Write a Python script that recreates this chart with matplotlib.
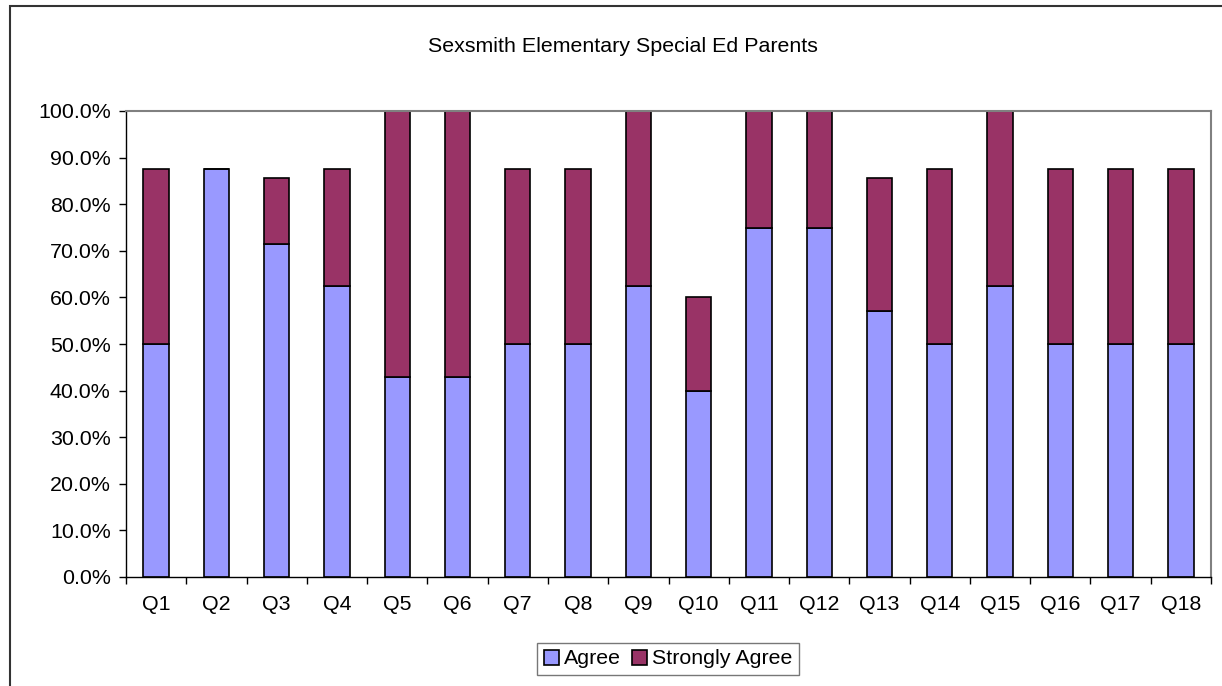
import matplotlib
matplotlib.use("Agg")
import matplotlib.pyplot as plt
from matplotlib.patches import Rectangle
from matplotlib.ticker import FixedLocator, FuncFormatter
import numpy as np

plt.rcParams["font.family"] = ["Liberation Sans", "DejaVu Sans"]

# Survey results (percent of respondents)
questions = [f"Q{i}" for i in range(1, 19)]
agree = [50.0, 87.5, 71.4, 62.5, 42.9, 42.9, 50.0, 50.0, 62.5,
         40.0, 75.0, 75.0, 57.1, 50.0, 62.5, 50.0, 50.0, 50.0]
strongly_agree = [37.5, 0.0, 14.3, 25.0, 57.1, 57.1, 37.5, 37.5, 37.5,
                  20.0, 25.0, 25.0, 28.6, 37.5, 37.5, 37.5, 37.5, 37.5]

AGREE_COLOR = "#9999FF"
STRONG_COLOR = "#993366"
FS = 15.4

fig = plt.figure(figsize=(12.22, 6.86), dpi=100)
W, H = 1222, 686
ax = fig.add_axes([126 / W, (H - 577) / H, (1211 - 126) / W, (577 - 111) / H])

x = np.arange(len(questions))
ax.bar(x, agree, width=0.42, color=AGREE_COLOR, edgecolor="black",
       linewidth=1.2, label="Agree")
ax.bar(x, strongly_agree, width=0.42, bottom=agree, color=STRONG_COLOR,
       edgecolor="black", linewidth=1.2, label="Strongly Agree")

ax.set_xlim(-0.5, len(questions) - 0.5)
ax.set_ylim(0, 100)
ax.set_yticks(np.arange(0, 101, 10))
ax.yaxis.set_major_formatter(FuncFormatter(lambda v, _: f"{v:.1f}%"))
ax.set_xticks(x)
ax.set_xticklabels(questions)
ax.xaxis.set_minor_locator(FixedLocator(np.arange(-0.5, len(questions), 1)))
ax.tick_params(axis="x", which="major", length=0, pad=13, labelsize=FS)
ax.tick_params(axis="x", which="minor", length=5, width=1, direction="out")
ax.tick_params(axis="y", length=5, width=1, direction="out", pad=6,
               labelsize=FS)

for side in ("top", "right"):
    ax.spines[side].set_color("#808080")
    ax.spines[side].set_linewidth(1.5)
for side in ("left", "bottom"):
    ax.spines[side].set_color("black")
    ax.spines[side].set_linewidth(1.0)

fig.text(623 / W, 1 - 47 / H, "Sexsmith Elementary Special Ed Parents",
         ha="center", va="center", fontsize=FS)

leg = fig.legend(loc="center", bbox_to_anchor=(668 / W, 1 - 659 / H),
                 ncol=2, frameon=True, fancybox=False, fontsize=FS,
                 handlelength=0.7, handleheight=0.7, handletextpad=0.25,
                 columnspacing=0.5, borderpad=0.3, borderaxespad=0)
leg.get_frame().set_edgecolor("#555555")
leg.get_frame().set_linewidth(1.0)

# outer chart border
fig.patches.append(Rectangle((10 / W, -0.05), 1.1, 1 - 6 / H + 0.05,
                             transform=fig.transFigure, fill=False,
                             edgecolor="#333333", linewidth=1.5))

fig.savefig("out.png", dpi=100)
